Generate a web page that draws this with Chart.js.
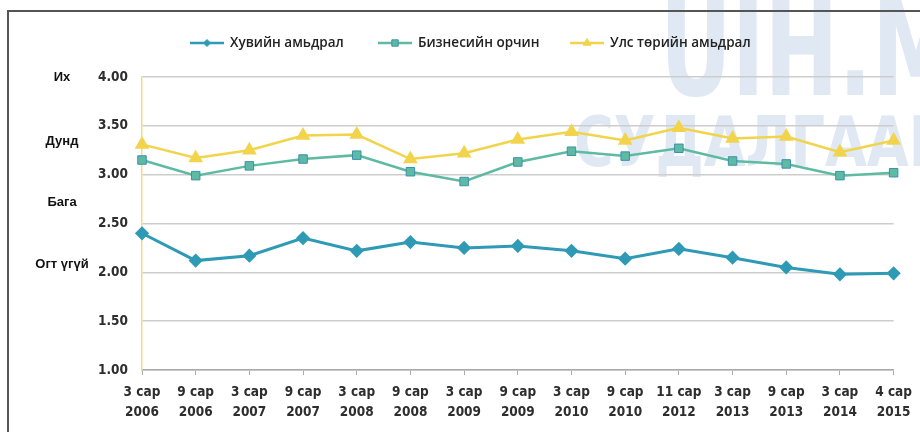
<!DOCTYPE html>
<html>
<head>
<meta charset="utf-8">
<script src="https://cdn.jsdelivr.net/npm/chart.js@4/dist/chart.umd.min.js"></script>
<style>
  html, body { margin: 0; padding: 0; background: #fff; }
  #wrap { width: 920px; height: 432px; position: relative; }
</style>
</head>
<body>
<div id="wrap"><canvas id="surveyChart" width="920" height="432"></canvas></div>
<script>
// Survey periods (x axis), two lines each
const periods = [
  ['3 сар', '2006'], ['9 сар', '2006'], ['3 сар', '2007'], ['9 сар', '2007'],
  ['3 сар', '2008'], ['9 сар', '2008'], ['3 сар', '2009'], ['9 сар', '2009'],
  ['3 сар', '2010'], ['9 сар', '2010'], ['11 сар', '2012'], ['3 сар', '2013'],
  ['9 сар', '2013'], ['3 сар', '2014'], ['4 сар', '2015']
];

const seriesNames = ['Хувийн амьдрал', 'Бизнесийн орчин', 'Улс төрийн амьдрал'];

const privateLife = [2.40, 2.12, 2.17, 2.35, 2.22, 2.31, 2.25, 2.27, 2.22, 2.14, 2.24, 2.15, 2.05, 1.98, 1.99];
const businessEnv = [3.15, 2.99, 3.09, 3.16, 3.20, 3.03, 2.93, 3.13, 3.24, 3.19, 3.27, 3.14, 3.11, 2.99, 3.02];
const politicalLife = [3.31, 3.17, 3.25, 3.40, 3.41, 3.16, 3.22, 3.36, 3.44, 3.35, 3.48, 3.37, 3.39, 3.23, 3.35];

// Y axis range and the verbal levels shown on the far left
const yMin = 1.0;
const yMax = 4.0;
const yStep = 0.5;
const levelLabels = ['Их', 'Дунд', 'Бага', 'Огт үгүй'];
const levelValues = [4.0, 3.34, 2.72, 2.08];

const colors = {
  blue: '#2f9ab5',
  teal: '#5fbaa2',
  tealEdge: '#3b8fb3',
  yellow: '#f2d44c',
  text: '#2e2e2e',
  grid: '#cdcdcd'
};

// draw text squeezed horizontally to fit a given width
function fitText(ctx, txt, x, y, width) {
  const w = ctx.measureText(txt).width;
  ctx.save();
  ctx.translate(x, y);
  ctx.scale(width / w, 1);
  ctx.fillText(txt, 0, 0);
  ctx.restore();
}

// faint site watermark behind the plot
const watermark = {
  id: 'watermark',
  beforeDraw(chart) {
    const ctx = chart.ctx;
    ctx.save();
    ctx.fillStyle = '#dfe8f3';
    ctx.textBaseline = 'alphabetic';
    ctx.font = 'bold 130px "DejaVu Sans Condensed"';
    fitText(ctx, 'UIH.M', 660, 95, 300);
    ctx.font = 'bold 70px "DejaVu Sans Condensed"';
    fitText(ctx, 'СУДАЛГААН', 574, 166, 380);
    ctx.restore();
  }
};

// frame (top + left border), level labels and legend
const decorations = {
  id: 'decorations',
  afterDraw(chart) {
    const ctx = chart.ctx;
    const y = chart.scales.y;
    ctx.save();

    ctx.strokeStyle = '#555';
    ctx.lineWidth = 2;
    ctx.beginPath();
    ctx.moveTo(8, 432);
    ctx.lineTo(8, 11);
    ctx.lineTo(920, 11);
    ctx.stroke();

    ctx.fillStyle = '#111';
    ctx.font = 'bold 13px "Liberation Sans"';
    ctx.textAlign = 'center';
    ctx.textBaseline = 'middle';
    levelLabels.forEach((txt, i) => {
      ctx.fillText(txt, 62, y.getPixelForValue(levelValues[i]));
    });

    // legend: line with marker, then text
    const legendY = 43;
    const legendX = [190, 378, 570];
    chart.data.datasets.forEach((ds, i) => {
      const x0 = legendX[i];
      ctx.strokeStyle = ds.borderColor;
      ctx.lineWidth = 2.5;
      ctx.beginPath();
      ctx.moveTo(x0, legendY);
      ctx.lineTo(x0 + 34, legendY);
      ctx.stroke();
      ctx.fillStyle = ds.pointBackgroundColor;
      ctx.strokeStyle = ds.pointBorderColor;
      ctx.lineWidth = 1;
      Chart.helpers.drawPoint(ctx, {
        pointStyle: ds.pointStyle,
        radius: ds.pointRadius - 1.5,
        borderWidth: 1
      }, x0 + 17, legendY);
      ctx.fillStyle = '#222';
      ctx.font = '600 13.5px "Open Sans"';
      ctx.textAlign = 'left';
      ctx.textBaseline = 'middle';
      ctx.fillText(ds.label, x0 + 40, legendY);
    });
    ctx.restore();
  }
};

const tickFont = { family: '"DejaVu Sans Condensed"', size: 13.5, weight: 'bold', lineHeight: 1.45 };

new Chart(document.getElementById('surveyChart').getContext('2d'), {
  type: 'line',
  data: {
    labels: periods,
    datasets: [
      {
        label: seriesNames[0],
        data: privateLife,
        borderColor: colors.blue,
        backgroundColor: colors.blue,
        pointBackgroundColor: colors.blue,
        pointBorderColor: colors.blue,
        pointStyle: 'rectRot',
        pointRadius: 5,
        borderWidth: 3,
        tension: 0
      },
      {
        label: seriesNames[1],
        data: businessEnv,
        borderColor: colors.teal,
        backgroundColor: colors.teal,
        pointBackgroundColor: colors.teal,
        pointBorderColor: colors.tealEdge,
        pointStyle: 'rect',
        pointRadius: 6,
        pointBorderWidth: 1,
        borderWidth: 2.5,
        tension: 0
      },
      {
        label: seriesNames[2],
        data: politicalLife,
        borderColor: colors.yellow,
        backgroundColor: colors.yellow,
        pointBackgroundColor: colors.yellow,
        pointBorderColor: colors.yellow,
        pointStyle: 'triangle',
        pointRadius: 6,
        borderWidth: 2.5,
        tension: 0
      }
    ]
  },
  options: {
    responsive: false,
    animation: false,
    layout: { padding: { left: 0, top: 77, right: 25, bottom: 0 } },
    plugins: {
      legend: { display: false },
      tooltip: { enabled: false }
    },
    scales: {
      x: {
        offset: false,
        grid: {
          drawOnChartArea: false,
          drawTicks: true,
          tickLength: 5,
          color: '#aaaaaa'
        },
        border: { color: '#aaaaaa', width: 1.5 },
        ticks: {
          color: colors.text,
          font: tickFont,
          maxRotation: 0,
          autoSkip: false,
          padding: 8
        },
        afterFit(scale) { scale.height = 62; }
      },
      y: {
        min: yMin,
        max: yMax,
        grid: {
          color: colors.grid,
          lineWidth: 1.5,
          drawTicks: false
        },
        border: { color: '#f2dc8a', width: 1.5 },
        ticks: {
          stepSize: yStep,
          color: colors.text,
          font: { family: '"DejaVu Sans Condensed"', size: 13.5, weight: 'bold' },
          padding: 14,
          callback: v => v.toFixed(2)
        },
        afterFit(scale) { scale.width = 142; }
      }
    }
  },
  plugins: [watermark, decorations]
});
</script>
</body>
</html>
